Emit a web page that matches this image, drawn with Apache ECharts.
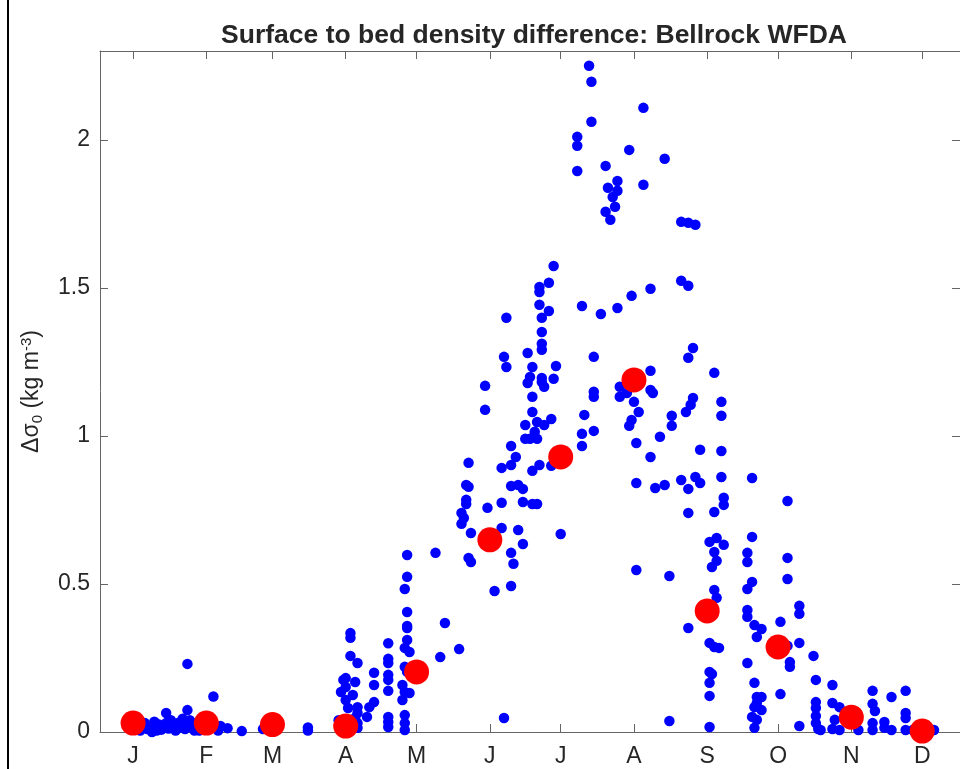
<!DOCTYPE html>
<html>
<head>
<meta charset="utf-8">
<script src="https://cdn.jsdelivr.net/npm/echarts@6/dist/echarts.min.js"></script>
<style>
html,body{margin:0;padding:0;background:#fff;}
#chart{width:960px;height:769px;}
</style>
</head>
<body>
<div id="chart"></div>
<script>
// Day-of-year tick positions (15th of each month) and labels
const monthTickDays = [15,46,74,105,135,166,196,227,258,288,319,349];
const monthLabels = ['J','F','M','A','M','J','J','A','S','O','N','D'];
const yTickValues = [0,0.5,1,1.5,2];

// Monthly means (red)
const meanDay = [15,46,74,105,135,166,196,227,258,288,319,349];
const meanVal = [0.03,0.03,0.025,0.02,0.203,0.649,0.929,1.189,0.409,0.287,0.05,0.003];

// Individual observations [day of year, delta sigma]
const obsJanMar = [[14,0.01],[16,0.02],[18,0.005],[19,0.015],[20,0.03],[21,0.01],[22,0.02],[23,0.0],[24,0.035],[25,0.015],[25,0.005],[26,0.025],[27,0.008],[28,0.02],[29,0.064],[29,0.03],[30,0.012],[31,0.04],[32,0.02],[33,0.005],[33,0.025],[34,0.03],[35,0.015],[36,0.045],[37,0.01],[38,0.23],[38,0.074],[38,0.025],[39,0.04],[40,0.015],[41,0.005],[42,0.03],[43,0.02],[43,0.005],[44,0.035],[45,0.01],[46,0.008],[47,0.02],[48,0.03],[49,0.12],[50,0.015],[51,0.005],[52,0.02],[55,0.013],[61,0.003],[70,0.01],[89,0.015],[89,0.005]];
const obsApr = [[102,0.04],[103,0.135],[104,0.176],[104,0.01],[105,0.152],[105,0.182],[105,0.108],[106,0.081],[107,0.334],[107,0.318],[107,0.257],[108,0.125],[109,0.169],[109,0.047],[110,0.084],[110,0.064],[110,0.03],[110,0.014],[110,0.233],[114,0.051],[115,0.084],[117,0.2],[117,0.159],[117,0.101],[123,0.3],[123,0.247],[123,0.233],[123,0.193],[123,0.176],[123,0.139],[123,0.051],[123,0.034],[123,0.017]];
const obsMay = [[131,0.598],[131,0.524],[130,0.483],[131,0.405],[131,0.358],[131,0.351],[131,0.311],[130,0.284],[132,0.27],[130,0.22],[131,0.203],[129,0.159],[130,0.135],[132,0.132],[129,0.108],[130,0.057],[130,0.03],[130,0.007],[143,0.605],[147,0.368],[145,0.253],[153,0.28]];
const obsJun = [[154,0.74],[155,0.723],[154,0.703],[156,0.834],[157,0.828],[156,0.784],[156,0.77],[157,0.909],[157,0.588],[158,0.574],[158,0.672],[164,1.169],[164,1.088],[165,0.757],[168,0.476],[171,0.892],[171,0.774],[171,0.689],[172,0.047],[172,1.267],[173,1.233],[173,1.399],[175,0.966],[175,0.902],[175,0.831],[175,0.605],[176,0.568],[175,0.493],[177,0.929],[178,0.834],[178,0.682],[180,0.821],[180,0.777],[180,0.635],[181,1.037],[181,0.99],[182,1.28],[182,1.179],[183,1.199],[183,0.99],[184,1.233],[184,1.132],[184,1.081],[184,0.882],[184,0.77],[185,1.014],[186,1.047],[186,0.99],[186,0.77],[187,1.503],[187,1.486],[187,1.443],[187,0.902],[188,1.399],[188,1.311],[188,1.291],[188,1.182],[188,1.351],[188,1.196],[189,1.166],[189,1.037],[191,1.517],[191,1.422],[192,1.057],[192,0.899],[193,1.193],[193,1.574],[194,1.236],[196,0.669]];
const obsJul = [[203,2.01],[203,1.98],[203,1.895],[205,1.439],[205,1.007],[205,0.966],[206,1.071],[208,2.25],[209,2.196],[209,2.061],[210,1.017],[210,1.267],[210,1.149],[210,1.132],[213,1.412],[215,1.912],[215,1.757],[216,1.838],[217,1.73],[218,1.807],[219,1.774],[220,1.861],[220,1.828],[220,1.432],[221,1.166],[221,1.132],[224,1.145],[225,1.034],[225,1.966],[226,1.473],[226,1.054]];
const obsAug = [[227,1.115],[228,0.976],[228,0.841],[228,0.547],[229,1.081],[231,2.108],[231,1.848],[234,0.929],[234,1.155],[234,1.497],[234,1.22],[235,1.145],[236,0.824],[238,0.997],[240,0.834],[240,1.936],[242,0.527],[242,0.037],[243,1.068],[243,1.034],[247,0.851],[247,1.723],[247,1.524],[249,1.081],[250,1.507],[250,1.72],[250,1.264],[250,0.821],[250,0.74],[250,0.351],[251,1.105],[252,1.297],[252,1.128],[253,1.713],[253,0.861],[255,0.953],[255,0.841]];
const obsSep = [[259,0.301],[259,0.642],[259,0.203],[259,0.122],[259,0.166],[259,0.017],[260,0.557],[260,0.196],[261,0.743],[261,0.48],[261,0.287],[261,0.608],[261,1.213],[262,0.578],[262,0.655],[262,0.453],[263,0.284],[264,1.115],[264,1.068],[264,0.949],[264,0.861],[265,0.791],[265,0.767],[265,0.632],[275,0.233],[275,0.574],[275,0.605],[275,0.483],[275,0.412],[275,0.389],[277,0.659],[277,0.858],[277,0.507],[277,0.051],[278,0.361],[278,0.166],[278,0.014],[278,0.084],[279,0.321],[279,0.118],[279,0.041],[279,0.098],[281,0.348],[281,0.118],[281,0.074]];
const obsOct = [[289,0.372],[289,0.128],[292,0.78],[292,0.588],[292,0.517],[292,0.291],[293,0.236],[293,0.22],[297,0.426],[297,0.399],[297,0.301],[297,0.02]];
const obsNovDec = [[303,0.257],[304,0.176],[304,0.101],[304,0.081],[304,0.054],[304,0.03],[305,0.01],[306,0.007],[311,0.159],[311,0.098],[314,0.084],[312,0.041],[311,0.01],[314,0.007],[322,0.007],[328,0.139],[328,0.095],[329,0.071],[328,0.03],[328,0.007],[333,0.034],[333,0.014],[336,0.118],[336,0.007],[342,0.139],[342,0.064],[342,0.047],[342,0.007],[345,0.007],[354,0.007]];

const obsAll = [].concat(obsJanMar, obsApr, obsMay, obsJun, obsJul, obsAug, obsSep, obsOct, obsNovDec);
const meanData = meanDay.map((d, i) => [d, meanVal[i]]);

const FONT = 'Liberation Sans, Arial, Helvetica, sans-serif';
const AXIS_COLOR = '#666666';
const TEXT_COLOR = '#262626';

const chart = echarts.init(document.getElementById('chart'), null, {renderer: 'canvas'});
const option = {
  backgroundColor: '#ffffff',
  animation: false,
  title: {
    text: 'Surface to bed density difference: Bellrock WFDA',
    left: 534,
    top: 22,
    padding: 0,
    textAlign: 'center',
    textStyle: {fontFamily: FONT, fontSize: 26.5, fontWeight: 'bold', color: TEXT_COLOR}
  },
  grid: {left: 100, top: 51, right: -4, bottom: 37, containLabel: false},
  xAxis: [
    {
      type: 'value', position: 'bottom', min: 1, max: 365,
      axisLine: {show: true, onZero: false, lineStyle: {color: AXIS_COLOR, width: 1}},
      axisTick: {show: true, inside: true, length: 8, customValues: monthTickDays, lineStyle: {color: AXIS_COLOR}},
      axisLabel: {
        show: true, customValues: monthTickDays, margin: 13,
        fontFamily: FONT, fontSize: 23, color: TEXT_COLOR,
        formatter: v => monthLabels[monthTickDays.indexOf(v)] || ''
      },
      splitLine: {show: false}
    },
    {
      type: 'value', position: 'top', min: 1, max: 365,
      axisLine: {show: true, onZero: false, lineStyle: {color: AXIS_COLOR, width: 1}},
      axisTick: {show: true, inside: true, length: 8, customValues: monthTickDays, lineStyle: {color: AXIS_COLOR}},
      axisLabel: {show: false},
      splitLine: {show: false}
    }
  ],
  yAxis: [
    {
      type: 'value', position: 'left', min: 0, max: 2.3,
      axisLine: {show: true, onZero: false, lineStyle: {color: AXIS_COLOR, width: 1}},
      axisTick: {show: true, inside: true, length: 8, customValues: yTickValues, lineStyle: {color: AXIS_COLOR}},
      axisLabel: {show: true, customValues: yTickValues, margin: 10, fontFamily: FONT, fontSize: 23, color: TEXT_COLOR},
      splitLine: {show: false},
      name: '{a|Δσ}{s|0}{a| (kg m}{p|-3}{a|)}',
      nameLocation: 'middle',
      nameRotate: 90,
      nameGap: 55,
      nameTextStyle: {
        fontFamily: FONT, color: TEXT_COLOR,
        rich: {
          a: {fontFamily: FONT, fontSize: 23, lineHeight: 26, color: TEXT_COLOR},
          s: {fontFamily: FONT, fontSize: 15, lineHeight: 16, verticalAlign: 'bottom', color: TEXT_COLOR},
          p: {fontFamily: FONT, fontSize: 15, lineHeight: 10, verticalAlign: 'top', color: TEXT_COLOR}
        }
      }
    },
    {
      type: 'value', position: 'right', min: 0, max: 2.3,
      axisLine: {show: true, onZero: false, lineStyle: {color: AXIS_COLOR, width: 1}},
      axisTick: {show: true, inside: true, length: 8, customValues: yTickValues, lineStyle: {color: AXIS_COLOR}},
      axisLabel: {show: false},
      splitLine: {show: false}
    }
  ],
  graphic: [
    {type: 'line', shape: {x1: 8, y1: 0, x2: 8, y2: 769}, style: {stroke: '#000', lineWidth: 2}, z: 100}
  ],
  series: [
    {
      type: 'scatter', xAxisIndex: 0, yAxisIndex: 0,
      data: obsAll, symbol: 'circle', symbolSize: 10.5,
      itemStyle: {color: '#0000ff', opacity: 1},
      emphasis: {disabled: true}
    },
    {
      type: 'scatter', xAxisIndex: 0, yAxisIndex: 0,
      data: meanData, symbol: 'circle', symbolSize: 25,
      itemStyle: {color: '#ff0000', opacity: 1},
      emphasis: {disabled: true}
    }
  ]
};
chart.setOption(option);
</script>
</body>
</html>
